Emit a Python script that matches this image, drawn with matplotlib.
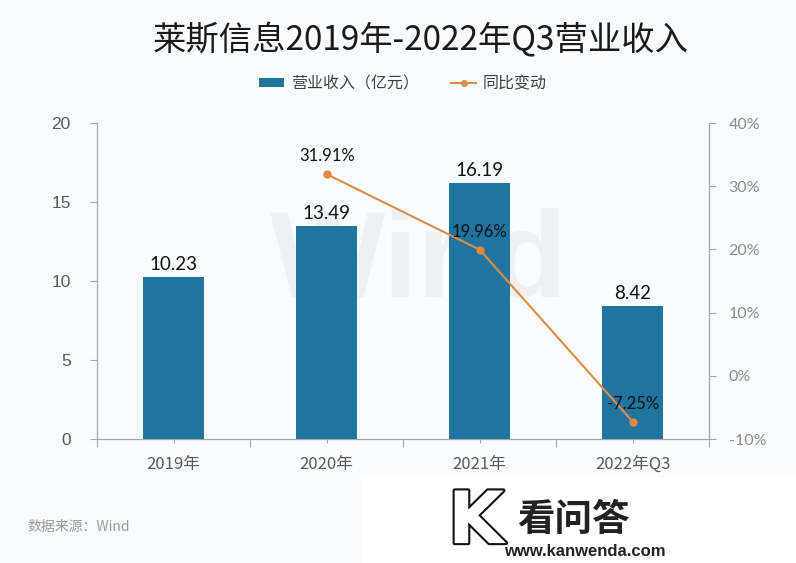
import matplotlib
matplotlib.use("Agg")
import matplotlib.pyplot as plt
from matplotlib.patches import Rectangle, Patch
from matplotlib.lines import Line2D
from matplotlib.ticker import FixedLocator, FuncFormatter
import matplotlib.patheffects as pe

plt.rcParams['font.family'] = ['Noto Sans CJK SC', 'DejaVu Sans']

categories = ["2019年", "2020年", "2021年", "2022年Q3"]
revenue = [10.23, 13.49, 16.19, 8.42]
yoy_cats = [1, 2, 3]
yoy = [31.91, 19.96, -7.25]
yoy_labels = ["31.91%", "19.96%", "-7.25%"]
left_ticks = [0, 5, 10, 15, 20]
right_ticks = [-10, 0, 10, 20, 30, 40]

bg = "#f9fbfc"
bar_color = "#1f74a0"
line_color = "#df8b45"

fig = plt.figure(figsize=(7.96, 5.63), dpi=100, facecolor=bg)
ax = fig.add_axes([0.122, 0.220, 0.769, 0.5615])
ax.set_facecolor(bg)

x = list(range(len(categories)))
bars = ax.bar(x, revenue, width=0.4, color=bar_color, zorder=3)
ax.set_xlim(-0.5, len(categories) - 0.5)
ax.set_ylim(0, 20)
ax.set_yticks(left_ticks)
ax.set_yticklabels([str(t) for t in left_ticks], family=['Liberation Sans', 'DejaVu Sans'],
                   fontsize=12.5, color="#595959")
ax.xaxis.set_major_locator(FixedLocator([i - 0.5 for i in range(len(categories) + 1)]))
ax.xaxis.set_minor_locator(FixedLocator(x))
ax.set_xticklabels([])
ax.set_xticks(x, minor=True)
ax.set_xticklabels(categories, minor=True, fontsize=12, color="#595959")
ax.tick_params(axis='x', which='major', length=6, color="#a6a6a6", width=0.8)
ax.tick_params(axis='x', which='minor', length=3, color="#a6a6a6", width=0.8, pad=9)
ax.tick_params(axis='y', length=5, color="#a6a6a6", width=0.8, pad=14)
for s in ['top', 'right']:
    ax.spines[s].set_visible(False)
for s in ['left', 'bottom']:
    ax.spines[s].set_color("#a6a6a6")
    ax.spines[s].set_linewidth(0.9)

for xi, v in zip(x, revenue):
    ax.annotate(f"{v:.2f}", (xi, v), xytext=(0, 3), textcoords='offset points',
                ha='center', va='bottom', fontsize=13.5, family=['Lato', 'DejaVu Sans'],
                color="#111111", zorder=6)

# watermark
ax.text(1.6, 11.0, "Wind", fontsize=88, fontweight='bold', color="#eef0f2",
        ha='center', va='center', family=['Liberation Sans', 'DejaVu Sans'], zorder=1)

ax2 = ax.twinx()
ax2.set_ylim(-10, 40)
ax2.plot(yoy_cats, yoy, color=line_color, marker='o', markersize=5, linewidth=1.5, zorder=5)
ax2.set_yticks(right_ticks)
ax2.yaxis.set_major_formatter(FuncFormatter(lambda v, p: f"{int(v)}%"))
ax2.tick_params(axis='y', length=5, color="#a6a6a6", width=0.8, labelsize=11.5,
                labelcolor="#8c8c8c", pad=9)
for lbl in ax2.get_yticklabels():
    lbl.set_family(['Lato', 'DejaVu Sans'])
for s in ['top', 'left', 'bottom']:
    ax2.spines[s].set_visible(False)
ax2.spines['right'].set_color("#a6a6a6")
ax2.spines['right'].set_linewidth(0.9)
for xi, v, t in zip(yoy_cats, yoy, yoy_labels):
    ax2.annotate(t, (xi, v), xytext=(0, 7), textcoords='offset points',
                 ha='center', va='bottom', fontsize=12, family=['Lato', 'DejaVu Sans'],
                 color="#111111", zorder=6)

fig.text(0.529, 0.927, "莱斯信息2019年-2022年Q3营业收入", ha='center', va='center',
         fontsize=24, color="#1a1a1a")

handles = [Patch(facecolor=bar_color, edgecolor='none'),
           Line2D([0], [0], color=line_color, marker='o', markersize=4, linewidth=1.5)]
fig.legend(handles, ["营业收入（亿元）", "同比变动"], loc='center', bbox_to_anchor=(0.506, 0.851),
           ncol=2, frameon=False, fontsize=11.5, labelcolor="#404040",
           handlelength=1.6, handleheight=0.5, columnspacing=2.0, handletextpad=0.4)

fig.text(0.034, 0.064, "数据来源：Wind", fontsize=10, color="#9a9a9a", ha='left', va='center')

# site logo block
fig.patches.append(Rectangle((0.455, 0.0), 0.545, 0.152, transform=fig.transFigure,
                             facecolor="white", edgecolor='none', zorder=0))
k = fig.text(0.598, 0.07, "K", fontsize=52, fontweight='bold', color="white",
             ha='center', va='center', family=['DejaVu Sans'])
k.set_path_effects([pe.withStroke(linewidth=3, foreground="#111111")])
fig.text(0.72, 0.077, "看问答", fontsize=27, fontweight='bold', color="#222222",
         ha='center', va='center')
fig.text(0.735, 0.02, "www.kanwenda.com", fontsize=12, fontweight='bold', color="#222222",
         ha='center', va='center', family=['Liberation Sans', 'DejaVu Sans'])

fig.savefig("out.png", dpi=100, facecolor=bg)
